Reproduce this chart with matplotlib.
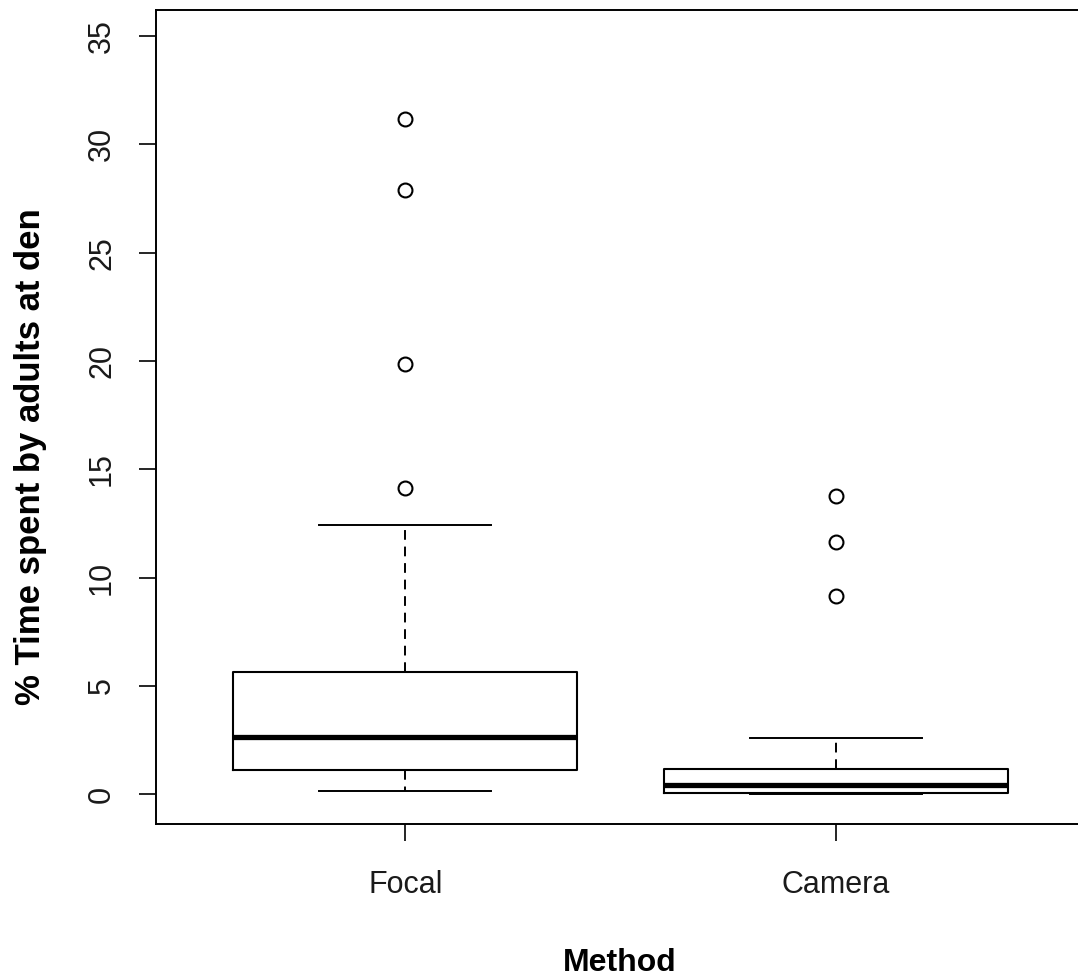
import matplotlib
matplotlib.use("Agg")
import matplotlib.pyplot as plt

plt.rcParams.update({
    'font.family': ['Liberation Sans', 'DejaVu Sans'],
    'font.size': 22,
})

# box summary (R-style boxplot)
methods = ['Focal', 'Camera']
whisker_low = [0.17, 0.0]
q1 = [1.11, 0.07]
median = [2.66, 0.44]
q3 = [5.63, 1.18]
whisker_high = [12.43, 2.58]
outliers = [[14.15, 19.86, 27.9, 31.15], [9.14, 11.63, 13.77]]

stats = []
for i, m in enumerate(methods):
    stats.append({'label': m, 'whislo': whisker_low[i], 'q1': q1[i], 'med': median[i],
                  'q3': q3[i], 'whishi': whisker_high[i], 'fliers': outliers[i]})

fig = plt.figure(figsize=(10.78, 9.8), dpi=100)
ax = fig.add_axes([156 / 1078, 1 - 824 / 980, 929 / 1078, 814 / 980])

ax.bxp(stats, positions=[1, 2], widths=0.8,
       boxprops=dict(color='black', lw=1.5),
       medianprops=dict(color='black', lw=3.8, solid_capstyle='butt'),
       whiskerprops=dict(color='black', lw=1.4, ls=(0, (5, 3.5))),
       capprops=dict(color='black', lw=1.4),
       capwidths=0.4,
       flierprops=dict(marker='o', markersize=10, markerfacecolor='none',
                       markeredgecolor='black', markeredgewidth=1.5))

ax.set_xlim(0.42, 2.58)
ax.set_ylim(-1.37, 36.2)
ax.set_yticks(range(0, 36, 5))
ax.set_xticks([1, 2])
ax.set_xticklabels(methods)
for lab in ax.get_yticklabels():
    lab.set_rotation(90)
    lab.set_va('center')
ax.tick_params(axis='both', length=12, width=1.2, color='black', labelcolor='#1a1a1a')
ax.tick_params(axis='y', pad=16)
ax.tick_params(axis='x', pad=21)
for s in ax.spines.values():
    s.set_linewidth(1.4)

fig.text(620 / 1078, 1 - 963 / 980, 'Method', ha='center', va='center',
         fontweight='bold', fontsize=23)
fig.text(31 / 1078, 1 - 457 / 980, '% Time spent by adults at den', rotation=90,
         ha='center', va='center', fontweight='bold', fontsize=25)

fig.savefig('out.png', dpi=100)
